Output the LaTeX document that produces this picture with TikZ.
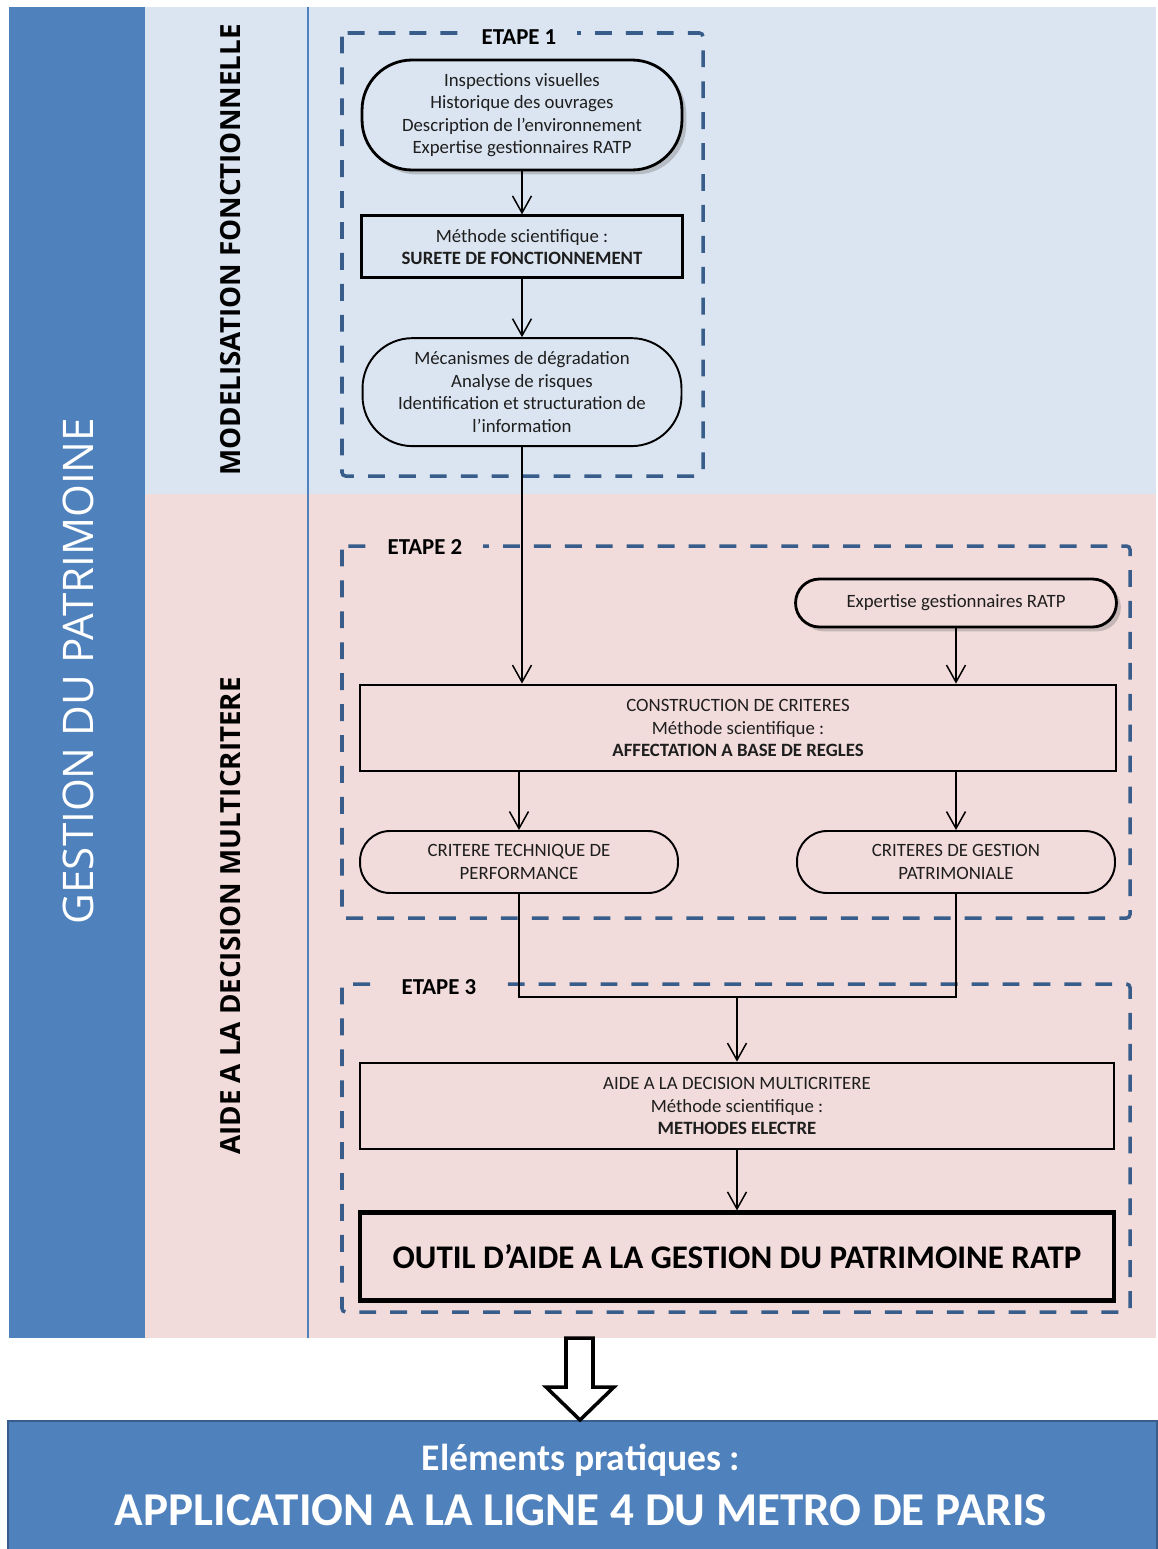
\documentclass[tikz,border=0pt]{standalone}
\usepackage{fontspec}
\setmainfont{Carlito}
\newfontfamily\lanefont{Open Sans}
\usetikzlibrary{positioning,arrows.meta,shadows,calc}
\definecolor{laneblue}{RGB}{79,129,189}
\definecolor{bandblue}{RGB}{219,229,241}
\definecolor{bandpink}{RGB}{242,220,219}
\definecolor{dashblue}{RGB}{56,93,138}
\definecolor{txtgray}{RGB}{30,30,30}
\tikzset{
  rect/.style    = {draw, line width=1.6pt, align=center, inner sep=2pt, text=txtgray,
                    font=\fontsize{10.7}{12.8}\selectfont},
  pill/.style    = {rect, rounded corners=#1},
  shadowed/.style = {drop shadow={shadow xshift=2.5pt, shadow yshift=-2.5pt, opacity=0.4}},
  flow/.style    = {-{Straight Barb[length=3.4mm, width=3.8mm]}, line width=0.85pt},
  link/.style    = {line width=0.85pt},
  etape/.style   = {draw=dashblue, line width=2pt, dash pattern=on 9.6pt off 8pt, rounded corners=2pt},
  etapelbl/.style = {inner xsep=0.42cm, inner ysep=1pt, font=\bfseries\fontsize{13}{15}\selectfont},
  lanelbl/.style = {rotate=90, font=\lanefont\bfseries\fontsize{15.8}{18}\selectfont},
}

\begin{document}
\begin{tikzpicture}[x=0.02cm, y=-0.02cm]
  \useasboundingbox (0,0) rectangle (1157,1549);
  % bandes de fond
  \fill[bandblue] (145,7) rectangle (1156,494);
  \fill[bandpink] (145,494) rectangle (1156,1338);
  \fill[laneblue] (9,7) rectangle (145,1338);
  \draw[laneblue, line width=1.2pt] (308,7) -- (308,1338);
  \node[rotate=90, text=white, font=\lanefont\fontsize{24}{28}\selectfont] (gestion) at (78,671) {GESTION DU PATRIMOINE};
  \node[lanelbl] (modelis) at (231,250) {MODELISATION FONCTIONNELLE};
  \node[lanelbl] (aidedec) at (231,916) {AIDE A LA DECISION MULTICRITERE};

  % etapes
  \draw[etape] (342,33) rectangle (703,476);
  \draw[etape] (342,546) rectangle (1130,918);
  \draw[etape] (342,984) rectangle (1130,1312);
  \node[etapelbl, fill=bandblue] (etape1) at (519,37) {ETAPE 1};
  \node[etapelbl, fill=bandpink] (etape2) at (425,547) {ETAPE 2};
  \node[etapelbl, fill=bandpink] (etape3) at (439,987) {ETAPE 3};

  % etape 1
  \node[pill=1cm, shadowed, fill=bandblue, minimum width=6.4cm, minimum height=2.2cm] (inspect) at (522,115)
    {Inspections visuelles\\Historique des ouvrages\\Description de l’environnement\\Expertise gestionnaires RATP};
  \node[rect, minimum width=6.42cm, minimum height=1.24cm, below=0.86cm of inspect] (surete)
    {Méthode scientifique :\\\textbf{SURETE DE FONCTIONNEMENT}};
  \node[pill=1cm, line width=1.1pt, minimum width=6.38cm, minimum height=2.16cm, below=1.16cm of surete] (meca)
    {Mécanismes de dégradation\\Analyse de risques\\Identification et structuration de\\l’information};

  % etape 2
  \node[pill=0.48cm, shadowed, fill=bandpink, minimum width=6.42cm, minimum height=0.96cm] (expert) at (956,603)
    {Expertise gestionnaires RATP};
  \node[rect, minimum width=15.12cm, minimum height=1.72cm] (constr) at (738,728)
    {CONSTRUCTION DE CRITERES\\Méthode scientifique :\\\textbf{AFFECTATION A BASE DE REGLES}};
  \node[pill=0.6cm, line width=1.1pt, minimum width=6.36cm, minimum height=1.24cm] (critT) at (519,862)
    {CRITERE TECHNIQUE DE\\PERFORMANCE};
  \node[pill=0.6cm, line width=1.1pt, minimum width=6.36cm, minimum height=1.24cm] (critG) at (956,862)
    {CRITERES DE GESTION\\PATRIMONIALE};

  % etape 3
  \node[rect, minimum width=15.08cm, minimum height=1.72cm] (aide) at (737,1106)
    {AIDE A LA DECISION MULTICRITERE\\Méthode scientifique :\\\textbf{METHODES ELECTRE}};
  \node[rect, line width=2.5pt, minimum width=15.08cm, minimum height=1.76cm, below=1.2cm of aide,
        font=\bfseries\fontsize{18.8}{22}\selectfont, text=black] (outil)
    {OUTIL D’AIDE A LA GESTION DU PATRIMOINE RATP};

  \draw[flow] (inspect) -- (surete);
  \draw[flow] (surete) -- (meca);
  \draw[flow] (meca.south) -- (meca.south |- constr.north);
  \draw[flow] (expert) -- (expert |- constr.north);
  \draw[flow] (constr.south -| critT) -- (critT);
  \draw[flow] (constr.south -| critG) -- (critG);
  \coordinate (merge) at (737,997);
  \draw[link] (critT.south) |- (merge) -| (critG.south);
  \draw[flow] (merge) -- (aide);
  \draw[flow] (aide) -- (outil);

  % application
  \node[draw=dashblue, line width=1.2pt, fill=laneblue, minimum width=22.98cm, minimum height=2.8cm,
        anchor=north west] (pratique) at (7,1420) {};
  \node[text=white, font=\bfseries\fontsize{21.4}{25}\selectfont] (prat1) at (581,1460) {Eléments pratiques :};
  \node[text=white, font=\bfseries\fontsize{26.8}{31}\selectfont] (prat2) at (581,1510) {APPLICATION A LA LIGNE 4 DU METRO DE PARIS};
  \draw[line width=2pt, fill=white, line join=miter] (566,1338) -- (593,1338) -- (593,1387) -- (614,1387)
    -- (pratique.north -| 580,0) -- (546,1387) -- (566,1387) -- cycle;
\end{tikzpicture}
\end{document}
